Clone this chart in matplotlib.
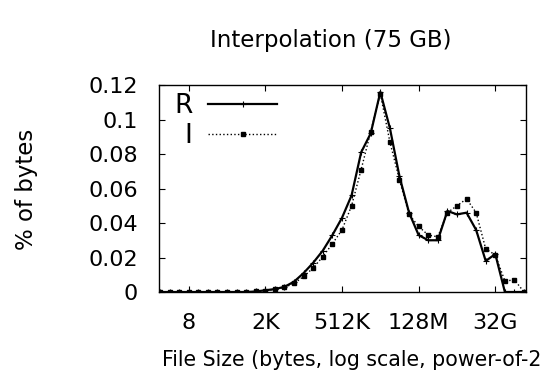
import matplotlib
matplotlib.use("Agg")
import matplotlib.pyplot as plt

plt.rcParams['font.family'] = ['DejaVu Sans']

# log2 of file size (bytes)
log2_size = list(range(39))
r_bytes = [0, 0, 0, 0, 0, 0, 0, 0, 0, 0, 0.0003,
           0.001, 0.0017, 0.003, 0.006, 0.011, 0.017, 0.024, 0.033, 0.043, 0.056,
           0.081, 0.092, 0.116, 0.095, 0.067, 0.046, 0.033, 0.030, 0.030, 0.047,
           0.045, 0.046, 0.036, 0.018, 0.022, 0.0, 0.0, 0.0]
i_bytes = [0, 0, 0, 0, 0, 0, 0, 0, 0, 0, 0.0003,
           0.0008, 0.0015, 0.0027, 0.005, 0.009, 0.014, 0.0205, 0.028, 0.036, 0.050,
           0.071, 0.093, 0.115, 0.087, 0.065, 0.045, 0.038, 0.033, 0.032, 0.046,
           0.050, 0.054, 0.046, 0.025, 0.0215, 0.0064, 0.007, 0.0]

x_tick_pos = [3, 11, 19, 27, 35]
x_tick_labels = ['8', '2K', '512K', '128M', '32G']
y_ticks = [0, 0.02, 0.04, 0.06, 0.08, 0.1, 0.12]
y_tick_labels = ['0', '0.02', '0.04', '0.06', '0.08', '0.1', '0.12']

fig = plt.figure(figsize=(5.4, 3.78), dpi=100)
ax = fig.add_axes([0.2944, 0.2275, 0.6796, 0.5475])

ax.plot(log2_size, r_bytes, color='black', linewidth=1.6, linestyle='-',
        marker='+', markersize=4, markeredgewidth=0.8, label='R')
ax.plot(log2_size, i_bytes, color='black', linewidth=1.0, linestyle=':',
        marker='s', markersize=2.5, label='I')

ax.set_xlim(-0.1, 38.2)
ax.set_ylim(0, 0.12)
ax.set_xticks(x_tick_pos)
ax.set_xticklabels(x_tick_labels)
ax.set_yticks(y_ticks)
ax.set_yticklabels(y_tick_labels)
ax.tick_params(direction='in', top=True, right=True, length=4, width=0.8,
               labelsize=16, pad=15)
for s in ax.spines.values():
    s.set_linewidth(1.0)

fig.text(0.612, 0.894, 'Interpolation (75 GB)', fontsize=16.5,
         ha='center', va='center')
fig.text(0.05, 0.5, '% of bytes', fontsize=16.5, rotation=90,
         ha='center', va='center')
# the original label is cut at the right edge after "power-of-2"
fig.text(0.300, 0.048, 'File Size (bytes, log scale, power-of-2', fontsize=14.8,
         ha='left', va='center')

ax.legend(loc='upper left', frameon=False, markerfirst=False, fontsize=19,
          handlelength=2.6, handletextpad=0.6, borderaxespad=0.15,
          borderpad=0.15, labelspacing=0.15, bbox_to_anchor=(0.02, 1.0))

fig.savefig('out.png', dpi=100)
